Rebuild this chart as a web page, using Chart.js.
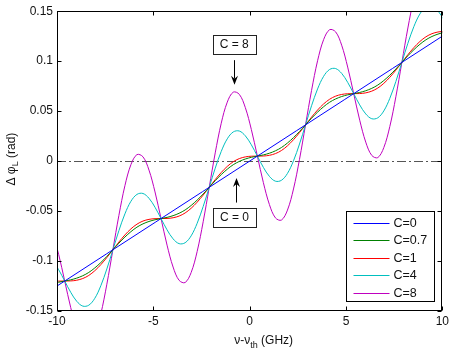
<!DOCTYPE html>
<html>
<head>
<meta charset="utf-8">
<script src="https://cdn.jsdelivr.net/npm/chart.js@4/dist/chart.umd.min.js"></script>
<style>
  html, body { margin: 0; padding: 0; background: #fff; }
  canvas { display: block; }
</style>
</head>
<body>
<canvas id="phaseChart" width="452" height="351"></canvas>
<script>
// detuning nu - nu_th (GHz)
const freq = [-10.225, -9.9125, -9.6, -9.2875, -8.975, -8.6625, -8.35, -8.0375, -7.725, -7.4125,
  -7.1, -6.7875, -6.475, -6.1625, -5.85, -5.5375, -5.225, -4.9125,
  -4.6, -4.2875, -3.975, -3.6625, -3.35, -3.0375, -2.725, -2.4125,
  -2.1, -1.7875, -1.475, -1.1625, -0.85, -0.5375, -0.225, 0.0875,
  0.4, 0.7125, 1.025, 1.3375, 1.65, 1.9625, 2.275, 2.5875,
  2.9, 3.2125, 3.525, 3.8375, 4.15, 4.4625, 4.775, 5.0875,
  5.4, 5.7125, 6.025, 6.3375, 6.65, 6.9625, 7.275, 7.5875,
  7.9, 8.2125, 8.525, 8.8375, 9.15, 9.4625, 9.775, 10.0875];

// C = 0 is a straight line
const freqC0 = [-10, 10];
const phaseC0 = [-0.125, 0.125];

const phaseC07 = [-0.1229, -0.1212, -0.12, -0.1188, -0.1171, -0.1147, -0.1114, -0.1069, -0.1015, -0.0954,
  -0.0888, -0.0821, -0.0760, -0.0706, -0.0661, -0.0628, -0.0604, -0.0587,
  -0.0575, -0.0563, -0.0546, -0.0522, -0.0489, -0.0444, -0.0390, -0.0329,
  -0.0263, -0.0196, -0.0135, -0.0081, -0.0036, -0.0003, 0.0021, 0.0038,
  0.005, 0.0062, 0.0079, 0.0103, 0.0136, 0.0181, 0.0235, 0.0296,
  0.0363, 0.0429, 0.0490, 0.0544, 0.0589, 0.0622, 0.0646, 0.0663,
  0.0675, 0.0687, 0.0704, 0.0728, 0.0761, 0.0806, 0.0860, 0.0921,
  0.0988, 0.1054, 0.1115, 0.1169, 0.1214, 0.1247, 0.1271, 0.1288];

const phaseC1 = [-0.1208, -0.1201, -0.12, -0.1199, -0.1192, -0.1175, -0.1144, -0.1097, -0.1036, -0.0965,
  -0.0888, -0.0810, -0.0739, -0.0678, -0.0631, -0.0600, -0.0583, -0.0576,
  -0.0575, -0.0574, -0.0567, -0.0550, -0.0519, -0.0472, -0.0411, -0.0340,
  -0.0263, -0.0185, -0.0114, -0.0053, -0.0006, 0.0025, 0.0042, 0.0049,
  0.005, 0.0051, 0.0058, 0.0075, 0.0106, 0.0153, 0.0214, 0.0285,
  0.0363, 0.0440, 0.0511, 0.0572, 0.0619, 0.0650, 0.0667, 0.0674,
  0.0675, 0.0676, 0.0683, 0.0700, 0.0731, 0.0778, 0.0839, 0.0910,
  0.0988, 0.1065, 0.1136, 0.1197, 0.1244, 0.1275, 0.1292, 0.1299];

const phaseC4 = [-0.0997, -0.1087, -0.12, -0.1313, -0.1403, -0.1451, -0.1442, -0.1373, -0.1247, -0.1079,
  -0.0888, -0.0696, -0.0528, -0.0402, -0.0333, -0.0324, -0.0372, -0.0462,
  -0.0575, -0.0688, -0.0778, -0.0826, -0.0817, -0.0748, -0.0622, -0.0454,
  -0.0263, -0.0071, 0.0097, 0.0223, 0.0292, 0.0301, 0.0253, 0.0163,
  0.005, -0.0063, -0.0153, -0.0201, -0.0192, -0.0123, 0.0003, 0.0171,
  0.0363, 0.0554, 0.0722, 0.0848, 0.0917, 0.0926, 0.0878, 0.0788,
  0.0675, 0.0562, 0.0472, 0.0424, 0.0433, 0.0502, 0.0628, 0.0796,
  0.0988, 0.1179, 0.1347, 0.1473, 0.1542, 0.1551, 0.1503, 0.1413];

const phaseC8 = [-0.0715, -0.0934, -0.12, -0.1466, -0.1685, -0.1818, -0.1840, -0.1740, -0.1529, -0.1232,
  -0.0888, -0.0543, -0.0246, -0.0035, 0.0065, 0.0043, -0.0090, -0.0309,
  -0.0575, -0.0841, -0.1060, -0.1193, -0.1215, -0.1115, -0.0904, -0.0607,
  -0.0263, 0.0082, 0.0379, 0.0590, 0.0690, 0.0668, 0.0535, 0.0316,
  0.005, -0.0216, -0.0435, -0.0568, -0.0590, -0.0490, -0.0279, 0.0018,
  0.0363, 0.0707, 0.1004, 0.1215, 0.1315, 0.1293, 0.1160, 0.0941,
  0.0675, 0.0409, 0.0190, 0.0057, 0.0035, 0.0135, 0.0346, 0.0643,
  0.0988, 0.1332, 0.1629, 0.1840, 0.1940, 0.1918, 0.1785, 0.1566];

const seriesLabels = ["C=0", "C=0.7", "C=1", "C=4", "C=8"];
const seriesColors = ["#0000ff", "#008000", "#ff0000", "#00bfbf", "#bf00bf"];

const xTicks = [-10, -5, 0, 5, 10];
const yTicks = [-0.15, -0.1, -0.05, 0, 0.05, 0.1, 0.15];
const yTickLabels = ["-0.15", "-0.1", "-0.05", "0", "0.05", "0.1", "0.15"];

// text boxes with arrows: [label, box x, box y, arrow x, arrow from y, arrow to y]
const notes = [
  ["C = 8", -0.8, 0.1167, -0.8, 0.101, 0.0765],
  ["C = 0", -0.79, -0.0565, -0.69, -0.0415, -0.0168]
];

const FONT = "'Liberation Sans', Arial, Helvetica, sans-serif";

function toPoints(xs, ys) {
  return xs.map((x, i) => ({ x: x, y: ys[i] }));
}

const seriesData = [
  toPoints(freqC0, phaseC0),
  toPoints(freq, phaseC07),
  toPoints(freq, phaseC1),
  toPoints(freq, phaseC4),
  toPoints(freq, phaseC8)
];

const extras = {
  id: "extras",
  beforeDatasetsDraw(chart) {
    const { ctx, chartArea: a, scales } = chart;
    const y0 = Math.round(scales.y.getPixelForValue(0)) + 0.5;
    ctx.save();
    ctx.strokeStyle = "#555";
    ctx.lineWidth = 1;
    ctx.setLineDash([9, 3, 2, 3]);
    ctx.beginPath();
    ctx.moveTo(a.left, y0);
    ctx.lineTo(a.right, y0);
    ctx.stroke();
    ctx.restore();
  },
  afterDatasetsDraw(chart) {
    const { ctx, chartArea: a, scales } = chart;
    const xs = scales.x, ys = scales.y;
    ctx.save();

    // axes box and inward ticks
    ctx.strokeStyle = "#000";
    ctx.lineWidth = 1;
    const L = Math.round(a.left) + 0.5, R = Math.round(a.right) - 0.5;
    const T = Math.round(a.top) + 0.5, B = Math.round(a.bottom) - 0.5;
    ctx.strokeRect(L, T, R - L, B - T);
    ctx.beginPath();
    xTicks.forEach(v => {
      const px = Math.round(xs.getPixelForValue(v)) + 0.5;
      ctx.moveTo(px, B); ctx.lineTo(px, B - 4);
      ctx.moveTo(px, T); ctx.lineTo(px, T + 4);
    });
    yTicks.forEach(v => {
      const py = Math.round(ys.getPixelForValue(v)) + 0.5;
      ctx.moveTo(L, py); ctx.lineTo(L + 4, py);
      ctx.moveTo(R, py); ctx.lineTo(R - 4, py);
    });
    ctx.stroke();

    // annotations
    ctx.font = "12px " + FONT;
    ctx.textAlign = "center";
    ctx.textBaseline = "middle";
    notes.forEach(n => {
      const bx = xs.getPixelForValue(n[1]);
      const by = ys.getPixelForValue(n[2]);
      const w = 43, h = 19;
      const left = Math.round(bx - w / 2) + 0.5, top = Math.round(by - h / 2) + 0.5;
      ctx.fillStyle = "#fff";
      ctx.fillRect(left, top, w, h);
      ctx.strokeStyle = "#222";
      ctx.strokeRect(left, top, w, h);
      ctx.fillStyle = "#111";
      ctx.fillText(n[0], bx, by + 0.5);

      const ax = Math.round(xs.getPixelForValue(n[3])) + 0.5;
      const y1 = ys.getPixelForValue(n[4]);
      const y2 = ys.getPixelForValue(n[5]);
      const dir = y2 > y1 ? 1 : -1;
      ctx.strokeStyle = "#000";
      ctx.lineWidth = 1;
      ctx.beginPath();
      ctx.moveTo(ax, y1);
      ctx.lineTo(ax, y2 - dir * 6);
      ctx.stroke();
      ctx.fillStyle = "#000";
      ctx.beginPath();
      ctx.moveTo(ax, y2);
      ctx.lineTo(ax - 3.5, y2 - dir * 9);
      ctx.lineTo(ax, y2 - dir * 6);
      ctx.lineTo(ax + 3.5, y2 - dir * 9);
      ctx.closePath();
      ctx.fill();
    });

    // legend box
    const lgR = Math.round(a.right) - 7.5, lgB = Math.round(a.bottom) - 9.5;
    const lgW = 88, lgH = 90;
    const lgL = lgR - lgW, lgT = lgB - lgH;
    ctx.fillStyle = "#fff";
    ctx.fillRect(lgL, lgT, lgW, lgH);
    ctx.strokeStyle = "#000";
    ctx.strokeRect(lgL, lgT, lgW, lgH);
    ctx.font = "12.5px " + FONT;
    ctx.textAlign = "left";
    ctx.textBaseline = "middle";
    chart.data.datasets.forEach((ds, i) => {
      const ry = Math.round(lgT + 11 + i * 17.5) + 0.5;
      ctx.strokeStyle = ds.borderColor;
      ctx.lineWidth = 1;
      ctx.beginPath();
      ctx.moveTo(lgL + 7, ry);
      ctx.lineTo(lgL + 43, ry);
      ctx.stroke();
      ctx.fillStyle = "#111";
      ctx.fillText(ds.label, lgL + 47, ry + 0.5);
    });

    ctx.restore();
  },
  afterDraw(chart) {
    const { ctx, chartArea: a } = chart;
    ctx.save();
    ctx.fillStyle = "#111";
    ctx.textBaseline = "alphabetic";
    ctx.textAlign = "left";

    // x axis title: nu - nu_th (GHz)
    const main = "12px " + FONT, sub = "9px " + FONT;
    ctx.font = main;
    const p1 = "\u03bd-\u03bd", p3 = " (GHz)";
    const w1 = ctx.measureText(p1).width, w3 = ctx.measureText(p3).width;
    ctx.font = sub;
    const w2 = ctx.measureText("th").width;
    let x0 = (a.left + a.right) / 2 + 14 - (w1 + w2 + w3) / 2;
    const base = 344;
    ctx.font = main; ctx.fillText(p1, x0, base); x0 += w1;
    ctx.font = sub; ctx.fillText("th", x0, base + 4); x0 += w2;
    ctx.font = main; ctx.fillText(p3, x0, base);

    // y axis title: Delta phi_L (rad)
    ctx.translate(15, (a.top + a.bottom) / 2 - 2);
    ctx.rotate(-Math.PI / 2);
    ctx.font = main;
    const q1 = "\u0394 \u03c6", q3 = " (rad)";
    const v1 = ctx.measureText(q1).width, v3 = ctx.measureText(q3).width;
    ctx.font = sub;
    const v2 = ctx.measureText("L").width;
    let t0 = -(v1 + v2 + v3) / 2;
    ctx.font = main; ctx.fillText(q1, t0, 0); t0 += v1;
    ctx.font = sub; ctx.fillText("L", t0, 3); t0 += v2;
    ctx.font = main; ctx.fillText(q3, t0, 0);
    ctx.restore();
  }
};

Chart.defaults.font.family = FONT;
Chart.defaults.font.size = 12;
Chart.defaults.color = "#111";

const ctx = document.getElementById("phaseChart").getContext("2d");

new Chart(ctx, {
  type: "line",
  data: {
    datasets: seriesLabels.map((label, i) => ({
      label: label,
      data: seriesData[i],
      borderColor: seriesColors[i],
      borderWidth: 1,
      pointRadius: 0,
      tension: 0.35,
      fill: false
    }))
  },
  options: {
    responsive: false,
    animation: false,
    layout: { padding: { left: 0, top: 9, right: 9, bottom: 0 } },
    plugins: {
      legend: { display: false },
      tooltip: { enabled: false }
    },
    scales: {
      x: {
        type: "linear",
        min: -10,
        max: 10,
        afterBuildTicks: (scale) => { scale.ticks = xTicks.map(v => ({ value: v })); },
        afterFit: (scale) => { scale.height = 40; },
        grid: { display: false, drawTicks: false },
        border: { display: false },
        ticks: { padding: 3, maxRotation: 0 }
      },
      y: {
        type: "linear",
        min: -0.15,
        max: 0.15,
        afterBuildTicks: (scale) => { scale.ticks = yTicks.map(v => ({ value: v })); },
        afterFit: (scale) => { scale.width = 57; },
        grid: { display: false, drawTicks: false },
        border: { display: false },
        ticks: {
          padding: 4,
          callback: (value) => {
            const i = yTicks.findIndex(t => Math.abs(t - value) < 1e-9);
            return i >= 0 ? yTickLabels[i] : "";
          }
        }
      }
    }
  },
  plugins: [extras]
});
</script>
</body>
</html>
